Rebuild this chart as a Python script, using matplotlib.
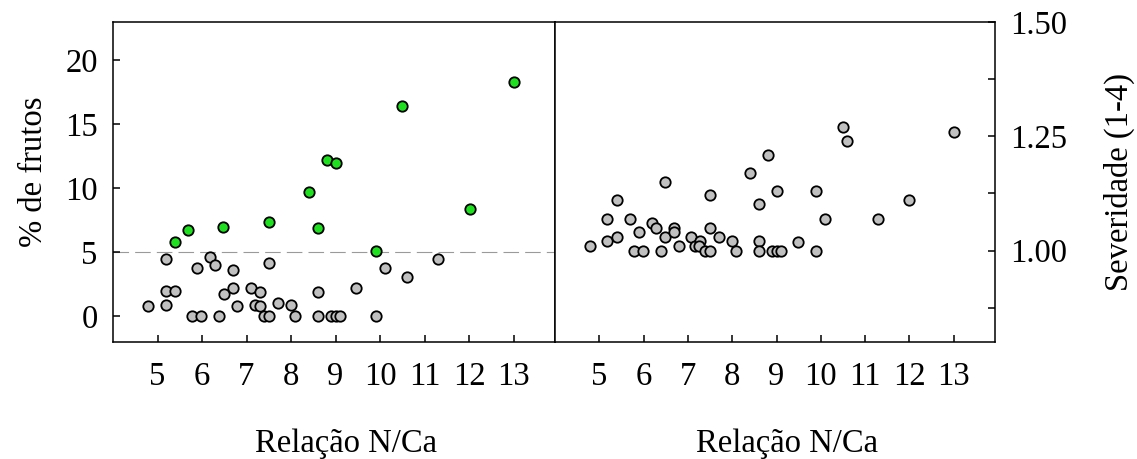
import matplotlib
matplotlib.use("Agg")
import matplotlib.pyplot as plt
from matplotlib.ticker import MultipleLocator

plt.rcParams['font.family'] = ['Liberation Serif', 'DejaVu Serif']
plt.rcParams['font.size'] = 23.5

# left panel: % de frutos, green = above 5 %
green_x = [5.40, 5.68, 6.48, 7.50, 8.40, 8.60, 8.80, 9.00, 9.90, 10.49, 12.01, 13.01]
green_y = [5.78, 6.77, 6.98, 7.40, 9.69, 6.88, 12.19, 11.98, 5.10, 16.41, 8.39, 18.31]

gray_x = [5.19, 5.89, 6.19, 6.30, 6.70, 7.51, 5.19, 5.40, 6.49, 6.70, 7.10, 7.30,
          8.60, 9.47, 4.78, 5.19, 6.79, 7.19, 7.30, 7.70, 7.99, 5.78, 5.98, 6.38,
          7.39, 7.51, 8.10, 8.60, 8.90, 9.00, 9.11, 9.90, 10.10, 10.60, 11.30]
gray_y = [4.51, 3.80, 4.64, 4.01, 3.60, 4.20, 2.01, 2.01, 1.75, 2.19, 2.19, 1.93,
          1.93, 2.19, 0.81, 0.91, 0.81, 0.91, 0.81, 1.05, 0.91, 0, 0, 0,
          0, 0, 0, 0, 0, 0, 0, 0, 3.80, 3.10, 4.51]

# right panel: severidade
sev_x = [4.79, 5.18, 5.18, 5.39, 5.39, 5.69, 5.79, 5.99, 5.89, 6.18, 6.29, 6.39,
         6.49, 6.49, 6.69, 6.69, 6.79, 7.08, 7.17, 7.28, 7.25, 7.38, 7.49, 7.49,
         7.49, 7.69, 7.99, 8.09, 8.40, 8.60, 8.60, 8.60, 8.81, 8.89, 9.01, 9.01,
         9.10, 9.49, 9.89, 9.89, 10.09, 10.50, 10.60, 11.30, 12.00, 13.00]
sev_y = [1.009, 1.070, 1.020, 1.110, 1.029, 1.070, 1.00, 1.00, 1.040, 1.061, 1.050, 1.00,
         1.149, 1.029, 1.050, 1.040, 1.010, 1.029, 1.010, 1.020, 1.010, 1.00, 1.00, 1.121,
         1.050, 1.029, 1.020, 1.00, 1.170, 1.101, 1.020, 1.00, 1.210, 1.00, 1.130, 1.00,
         1.00, 1.019, 1.130, 1.00, 1.070, 1.271, 1.240, 1.070, 1.110, 1.260]

x_ticks = [5, 6, 7, 8, 9, 10, 11, 12, 13]
left_yticks = [0, 5, 10, 15, 20]
right_yticks = [1.00, 1.25, 1.50]

W, H = 1137, 459
fig = plt.figure(figsize=(W / 100, H / 100), dpi=100)
ax1 = fig.add_axes([113 / W, 117 / H, 442 / W, 320 / H])
ax2 = fig.add_axes([555 / W, 117 / H, 440 / W, 320 / H])

pt = dict(s=56, edgecolors='black', linewidths=1.3, zorder=3)

ax1.axhline(5, color='#9a9a9a', lw=0.8, dashes=(14, 5.5), zorder=1)
ax1.scatter(gray_x, gray_y, c='#c0c0c0', **pt)
ax1.scatter(green_x, green_y, c='#1ee01e', **pt)
ax1.set_xlim(4, 13.93)
ax1.set_ylim(-2, 23)
ax1.set_xticks(x_ticks)
ax1.set_yticks(left_yticks)
ax1.set_xlabel('Relação N/Ca')
ax1.set_ylabel('% de frutos')
ax1.xaxis.set_label_coords(0.527, -0.344)
ax1.xaxis.label.set_va('baseline')
ax1.yaxis.set_label_coords(-0.161, 0.531)
ax1.yaxis.label.set_va('baseline')

ax2.scatter(sev_x, sev_y, c='#c0c0c0', **pt)
ax2.set_xlim(4, 13.93)
ax2.set_ylim(0.8, 1.5)
ax2.set_xticks(x_ticks)
ax2.yaxis.tick_right()
ax2.yaxis.set_label_position('right')
ax2.set_yticks(right_yticks)
ax2.set_yticklabels(['%.2f' % v for v in right_yticks])
ax2.yaxis.set_minor_locator(MultipleLocator(0.125))
ax2.set_xlabel('Relação N/Ca')
ax2.set_ylabel('Severidade (1-4)')
ax2.xaxis.set_label_coords(0.527, -0.344)
ax2.xaxis.label.set_va('baseline')
ax2.yaxis.set_label_coords(1.302, 0.5)
ax2.yaxis.label.set_va('baseline')

for ax in (ax1, ax2):
    for s in ax.spines.values():
        s.set_linewidth(1.1)
    ax.tick_params(which='both', direction='in', length=5, width=1.1)
    ax.tick_params(axis='x', pad=14)
    ax.tick_params(axis='y', pad=11)

fig.savefig('out.png', dpi=100)
